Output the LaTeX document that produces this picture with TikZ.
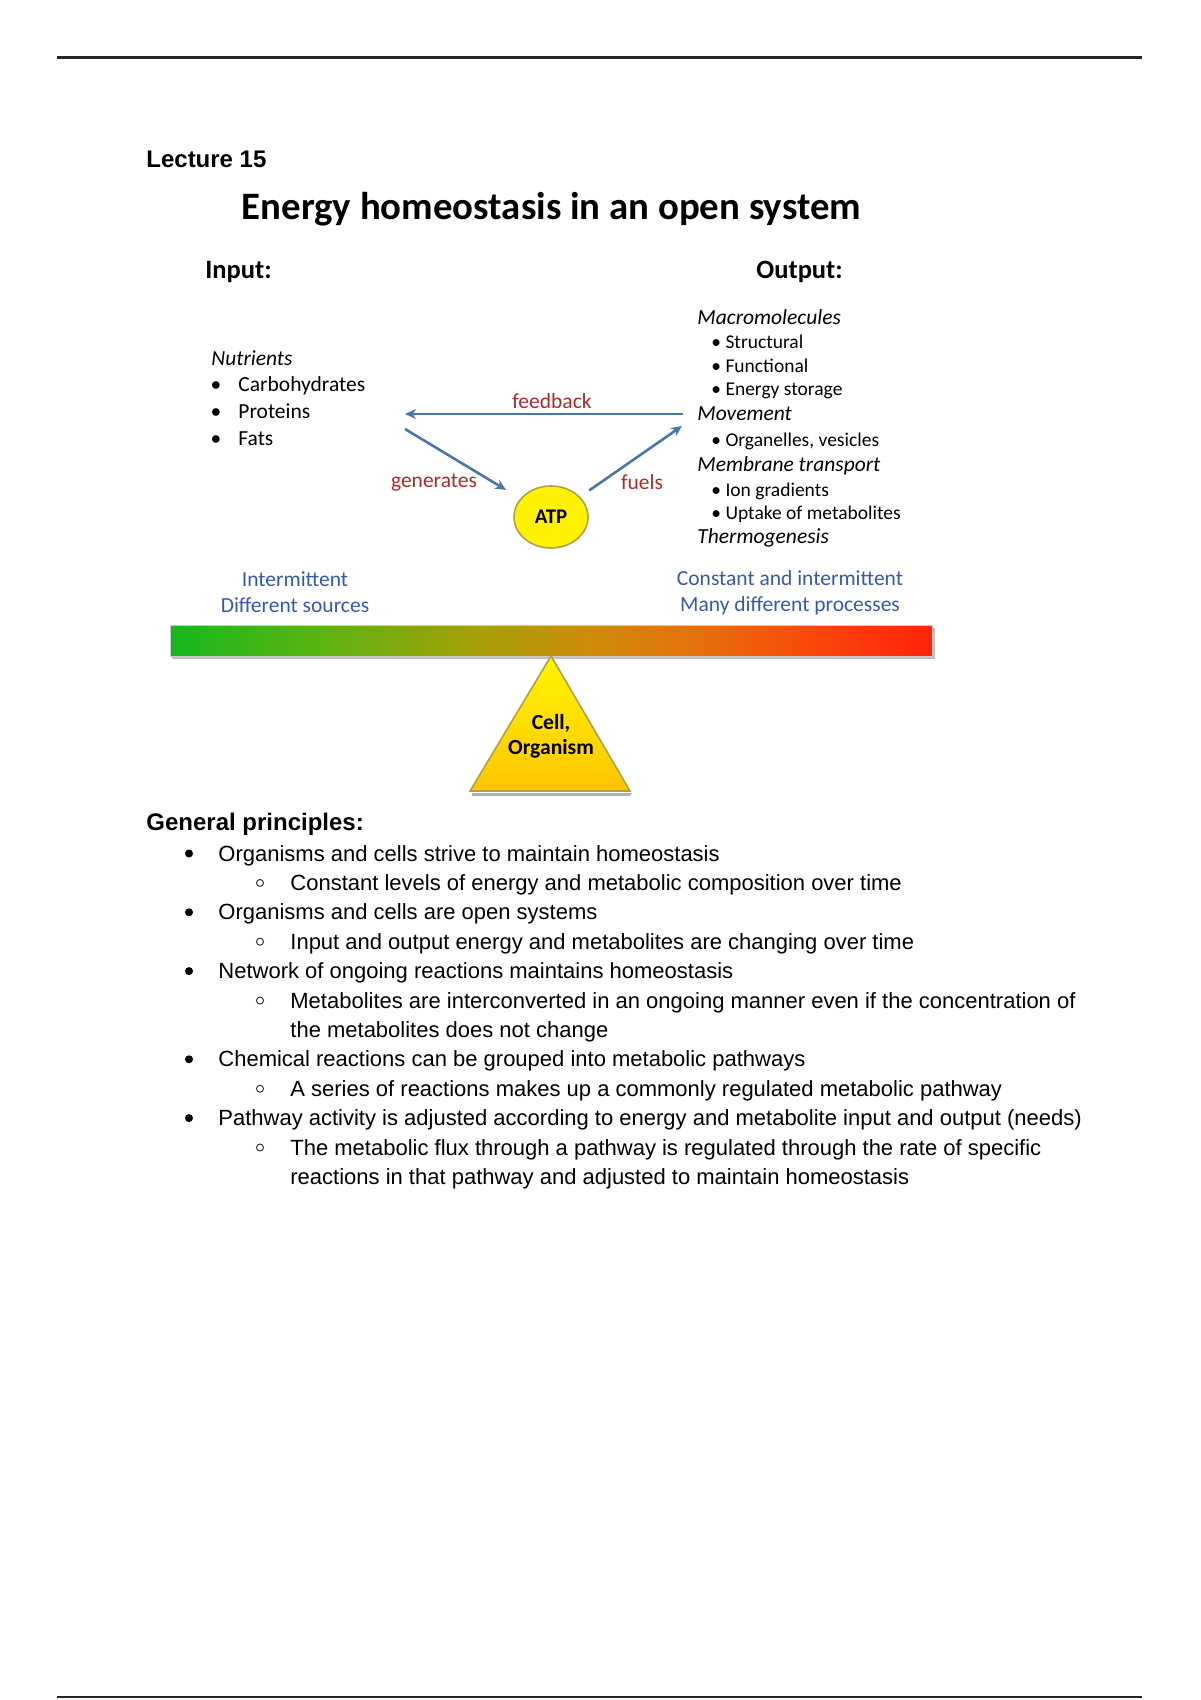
\documentclass[tikz,border=0pt]{standalone}
\usepackage{fontspec}
\setmainfont{Liberation Sans}
\newfontfamily\calib{Carlito}
\usetikzlibrary{arrows.meta,shapes.geometric}
\definecolor{arrowblue}{RGB}{74,118,168}
\definecolor{labred}{RGB}{172,42,42}
\definecolor{txtblue}{RGB}{52,88,182}
\definecolor{g0}{RGB}{22,184,30}
\definecolor{g1}{RGB}{92,180,16}
\definecolor{g2}{RGB}{165,160,6}
\definecolor{g3}{RGB}{205,140,10}
\definecolor{g4}{RGB}{232,110,10}
\definecolor{g5}{RGB}{250,70,10}
\definecolor{g6}{RGB}{255,35,10}
\definecolor{triTop}{RGB}{255,246,0}
\definecolor{triBot}{RGB}{255,196,0}
\definecolor{triEdge}{RGB}{176,160,70}
\pgfdeclarehorizontalshading{balance}{100bp}{color(0bp)=(g0); color(25bp)=(g0); color(35bp)=(g1); color(45bp)=(g2); color(52.5bp)=(g3); color(60bp)=(g4); color(67.5bp)=(g5); color(75bp)=(g6); color(100bp)=(g6)}
\tikzset{
  lec/.style={anchor=base west, inner sep=0pt, font=\bfseries\fontsize{12}{14}\selectfont},
  ttl/.style={anchor=base, inner sep=0pt, font=\calib\bfseries\fontsize{19.4}{22}\selectfont},
  hdr/.style={anchor=base west, inner sep=0pt, font=\calib\bfseries\fontsize{13.25}{15}\selectfont},
  itm/.style={anchor=base west, inner sep=0pt, font=\calib\fontsize{10.75}{13}\selectfont},
  itmit/.style={anchor=base west, inner sep=0pt, font=\calib\itshape\fontsize{10.75}{13}\selectfont},
  subitm/.style={anchor=base west, inner sep=0pt, font=\calib\fontsize{9.75}{12}\selectfont},
  lbl/.style={inner sep=0pt, text=labred, font=\calib\fontsize{10.75}{13}\selectfont},
  note/.style={anchor=base, inner sep=0pt, text=txtblue, font=\calib\fontsize{10.75}{13}\selectfont},
  conn/.style={draw=arrowblue, line width=1.3pt, -{Stealth[length=5.5pt,width=5pt]}},
  body/.style={anchor=base west, inner sep=0pt, font=\fontsize{11}{13}\selectfont},
  bodyhd/.style={anchor=base west, inner sep=0pt, font=\bfseries\fontsize{12}{14}\selectfont},
  mainbul/.style={fill=black},
  subbul/.style={draw=black!80, line width=0.5pt},
  rule/.style={draw=black!85, line width=1.1pt}
}
\begin{document}
\begin{tikzpicture}[x=0.5pt,y=-0.5pt]
\useasboundingbox (0,0) rectangle (1200,1700);
% page rules
\coordinate (tl) at (57,57.5); \coordinate (tr) at (1142,57.5);
\coordinate (bl) at (57,1697); \coordinate (br) at (1142,1697);
\draw[rule] (tl) -- (tr);
\draw[rule] (bl) -- (br);

\node[lec] (lecture) at (146,167.5) {Lecture 15};
\node[ttl] (title) at (551.5,220) {Energy homeostasis in an open system};
\node[hdr] (input) at (205,278.5) {Input:};
\node[hdr] (output) at (756,278.5) {Output:};

% input list
\node[itmit] (nutr) at (211,366) {Nutrients};
\node[itm, anchor=base] (b1) at (216,392) {•};
\node[itm] (carb) at (238,392) {Carbohydrates};
\node[itm, anchor=base] (b2) at (216,419) {•};
\node[itm] (prot) at (238,419) {Proteins};
\node[itm, anchor=base] (b3) at (216,445) {•};
\node[itm] (fats) at (238,445) {Fats};

% output list
\node[itmit] (macro) at (697,325) {Macromolecules};
\node[subitm] (struct) at (711,349) {• Structural};
\node[subitm] (func) at (711,373) {• Functional};
\node[subitm] (estor) at (711,396) {• Energy storage};
\node[itmit] (mov) at (697,421) {Movement};
\node[subitm] (organ) at (711,446) {• Organelles, vesicles};
\node[itmit] (memb) at (697,471) {Membrane transport};
\node[subitm] (iong) at (711,496) {• Ion gradients};
\node[subitm] (upt) at (711,519) {• Uptake of metabolites};
\node[itmit] (thermo) at (697,543) {Thermogenesis};

% ATP and arrows
\node[ellipse, draw=triEdge, line width=0.8pt, fill=yellow, minimum width=37pt, minimum height=31pt, inner sep=0pt, font=\calib\bfseries\fontsize{10.4}{12}\selectfont] (atp) at (551,517) {ATP};
\coordinate (fbL) at (405,414);
\coordinate (genS) at (405,429);
\coordinate (fuE) at (682,426);
\draw[conn, shorten <=7pt] (mov.west |- 0,414) -- (fbL);
\draw[conn, shorten >=8.3pt] (genS) -- (atp);
\draw[conn, shorten <=5.5pt] (atp) -- (fuE);
\node[lbl] (fbl) at (552,401) {feedback};
\node[lbl] (genl) at (434,483) {generates};
\node[lbl] (fuell) at (642,482) {fuels};

% blue notes
\node[note] (int1) at (295,586) {Intermittent};
\node[note] (int2) at (295,612) {Different sources};
\node[note] (con1) at (790,585) {Constant and intermittent};
\node[note] (con2) at (790,611) {Many different processes};

% balance bar
\fill[black!25] (172,628) rectangle (935,659);
\shade[shading=balance] (170,625) rectangle (932,656);
\draw[black!20, line width=0.4pt] (170,625) rectangle (932,656);
% fulcrum
\fill[black!30] (472,793) -- (632,793) -- (630,796) -- (472,796) -- cycle;
\shade[top color=triTop, bottom color=triBot] (551,656) -- (630,791) -- (470,791) -- cycle;
\draw[triEdge, line width=0.8pt, line join=miter] (551,656) -- (630,791) -- (470,791) -- cycle;
\node[align=center, inner sep=0pt, font=\calib\bfseries\fontsize{10.8}{12.5}\selectfont] (cell) at (551,736) {Cell,\\Organism};

% general principles
\node[bodyhd] (gp) at (146,830) {General principles:};
\node[body] (t1) at (218,861) {Organisms and cells strive to maintain homeostasis};
\node[body] (t1a) at (290,890.4) {Constant levels of energy and metabolic composition over time};
\node[body] (t2) at (218,919.8) {Organisms and cells are open systems};
\node[body] (t2a) at (290,949.2) {Input and output energy and metabolites are changing over time};
\node[body] (t3) at (218,978.6) {Network of ongoing reactions maintains homeostasis};
\node[body] (t3a) at (290,1008) {Metabolites are interconverted in an ongoing manner even if the concentration of};
\node[body] (t3b) at (290,1037.4) {the metabolites does not change};
\node[body] (t4) at (218,1066.8) {Chemical reactions can be grouped into metabolic pathways};
\node[body] (t4a) at (290,1096.2) {A series of reactions makes up a commonly regulated metabolic pathway};
\node[body] (t5) at (218,1125.6) {Pathway activity is adjusted according to energy and metabolite input and output (needs)};
\node[body] (t5a) at (290,1155) {The metabolic flux through a pathway is regulated through the rate of specific};
\node[body] (t5b) at (290,1184.4) {reactions in that pathway and adjusted to maintain homeostasis};

\foreach \yy in {853.5,912.3,971.1,1059.3,1118.1} \fill[mainbul] (189,\yy) circle (4);
\foreach \yy in {882.9,941.7,1000.5,1088.7,1147.5} \draw[subbul] (260,\yy) circle (3.5);
\end{tikzpicture}
\end{document}
